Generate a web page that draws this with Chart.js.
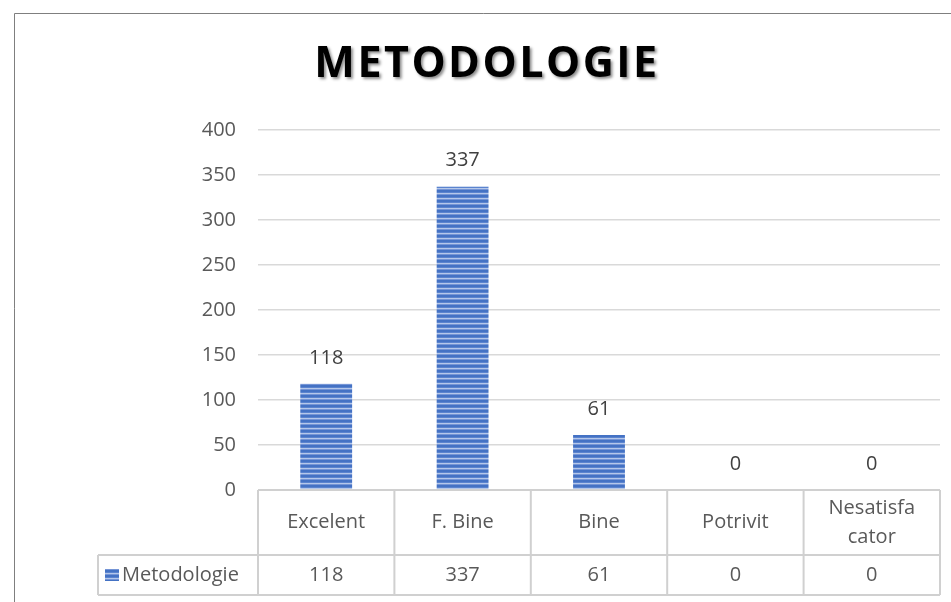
<!DOCTYPE html>
<html>
<head>
<meta charset="utf-8">
<script src="https://cdn.jsdelivr.net/npm/chart.js@4.4.1/dist/chart.umd.min.js"></script>
<style>
html,body{margin:0;padding:0;background:#fff;}
#wrap{width:951px;height:602px;position:relative;}
</style>
</head>
<body>
<div id="wrap"><canvas id="c" width="951" height="602"></canvas></div>
<script>
const chartTitle = "METODOLOGIE";
const seriesName = "Metodologie";
const categories = ["Excelent", "F. Bine", "Bine", "Potrivit", "Nesatisfa\ncator"];
const values = [118, 337, 61, 0, 0];
const yTicks = [0, 50, 100, 150, 200, 250, 300, 350, 400];

const FONT = "'Open Sans', 'Noto Sans', sans-serif";
const TXT = 20;

function makePattern() {
  const p = document.createElement('canvas');
  p.width = 8; p.height = 5;
  const g = p.getContext('2d');
  g.fillStyle = '#4472C4'; g.fillRect(0, 0, 8, 5);
  g.fillStyle = '#5b84cf'; g.fillRect(0, 2, 8, 1);
  g.fillStyle = '#b4c7ea'; g.fillRect(0, 3, 8, 1);
  g.fillStyle = '#7595d6'; g.fillRect(0, 4, 8, 1);
  return document.getElementById('c').getContext('2d').createPattern(p, 'repeat');
}
const barPattern = makePattern();

const decorPlugin = {
  id: 'decor',
  beforeDraw(chart) {
    const ctx = chart.ctx;
    ctx.save();
    ctx.fillStyle = '#fff';
    ctx.fillRect(0, 0, chart.width, chart.height);
    ctx.strokeStyle = '#7f7f7f';
    ctx.lineWidth = 1;
    ctx.beginPath();
    ctx.moveTo(14.5, 603);
    ctx.lineTo(14.5, 13.5);
    ctx.lineTo(952, 13.5);
    ctx.stroke();
    ctx.restore();
  },
  afterDraw(chart) {
    const ctx = chart.ctx;
    const area = chart.chartArea;
    const xs = chart.scales.x;
    const meta = chart.getDatasetMeta(0);
    ctx.save();
    // title
    ctx.font = "bold 43px " + FONT;
    try { ctx.letterSpacing = '2.5px'; } catch (e) {}
    ctx.textAlign = 'center';
    ctx.textBaseline = 'middle';
    ctx.shadowColor = 'rgba(0,0,0,0.45)';
    ctx.shadowOffsetX = 2;
    ctx.shadowOffsetY = 2;
    ctx.shadowBlur = 3;
    ctx.fillStyle = '#000';
    ctx.fillText(chartTitle, 487, 65);
    ctx.restore();

    ctx.save();
    // value labels
    ctx.fillStyle = '#404040';
    ctx.font = TXT + "px " + FONT;
    ctx.textAlign = 'center';
    ctx.textBaseline = 'middle';
    meta.data.forEach((bar, i) => {
      ctx.fillText(String(values[i]), bar.x, bar.y - 26);
    });
    // table
    const n = categories.length;
    const colW = (area.right - area.left) / n;
    const top = area.bottom;
    const hdrBottom = top + 65;
    const rowBottom = hdrBottom + 40;
    const legLeft = 98;
    ctx.strokeStyle = '#d0d0d0';
    ctx.lineWidth = 2;
    ctx.beginPath();
    ctx.moveTo(area.left, top); ctx.lineTo(area.right, top);
    ctx.moveTo(legLeft, hdrBottom); ctx.lineTo(area.right, hdrBottom);
    ctx.moveTo(legLeft, rowBottom); ctx.lineTo(area.right, rowBottom);
    ctx.moveTo(legLeft, hdrBottom); ctx.lineTo(legLeft, rowBottom);
    for (let i = 0; i <= n; i++) {
      const x = area.left + i * colW;
      ctx.moveTo(x, top); ctx.lineTo(x, rowBottom);
    }
    ctx.stroke();
    ctx.fillStyle = '#595959';
    ctx.font = TXT + "px " + FONT;
    categories.forEach((c, i) => {
      const cx = xs.getPixelForValue(i);
      const lines = c.split('\n');
      const mid = (top + hdrBottom) / 2;
      lines.forEach((ln, k) => {
        const y = mid + (k - (lines.length - 1) / 2) * 29;
        ctx.fillText(ln, cx, y);
      });
      ctx.fillText(String(values[i]), cx, (hdrBottom + rowBottom) / 2);
    });
    // legend
    const ly = (hdrBottom + rowBottom) / 2;
    ctx.fillStyle = barPattern;
    ctx.fillRect(105, ly - 6, 14, 12);
    ctx.fillStyle = '#595959';
    ctx.textAlign = 'left';
    ctx.fillText(seriesName, 122, ly);
    ctx.restore();
  }
};

new Chart(document.getElementById('c'), {
  type: 'bar',
  data: {
    labels: categories,
    datasets: [{
      label: seriesName,
      data: values,
      backgroundColor: barPattern,
      borderWidth: 0,
      barPercentage: 0.38,
      categoryPercentage: 1.0
    }]
  },
  options: {
    responsive: false,
    animation: false,
    devicePixelRatio: 1,
    layout: { padding: { left: 0, right: 11, top: 130, bottom: 112 } },
    plugins: {
      legend: { display: false },
      tooltip: { enabled: false },
      title: { display: false }
    },
    scales: {
      x: { display: false },
      y: {
        min: 0, max: 400,
        afterFit(s) { s.width = 258; },
        afterBuildTicks(s) { s.ticks = yTicks.map(v => ({ value: v })); },
        border: { display: false },
        grid: { color: '#d9d9d9', lineWidth: 1.5, drawTicks: false },
        ticks: { color: '#595959', font: { family: FONT, size: TXT }, padding: 22 }
      }
    }
  },
  plugins: [decorPlugin]
});
</script>
</body>
</html>
